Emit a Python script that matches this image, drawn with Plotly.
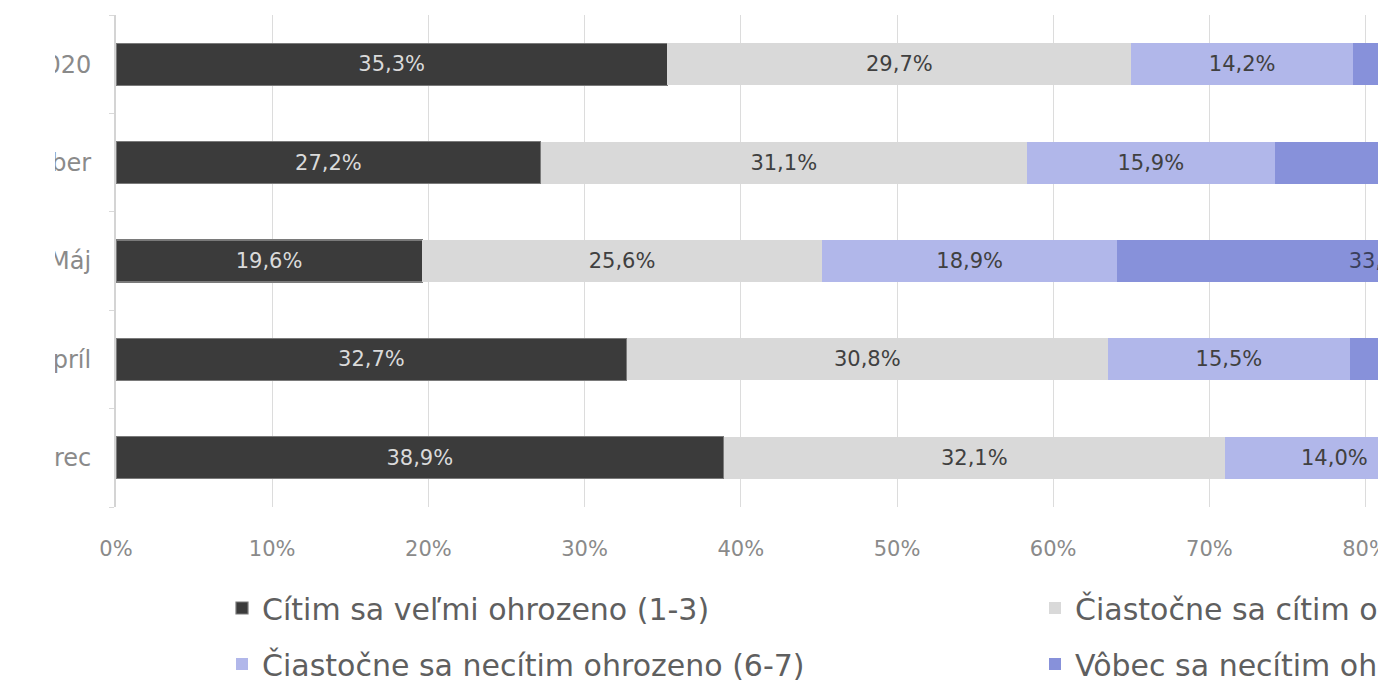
import plotly.graph_objects as go

categories = ["Marec", "Apríl", "Máj", "Október", "November 2020"]
series_names = [
    "Cítim sa veľmi ohrozeno (1-3)",
    "Čiastočne sa cítim ohrozeno (4-5)",
    "Čiastočne sa necítim ohrozeno (6-7)",
    "Vôbec sa necítim ohrozeno (8-10)",
]
s1 = [38.9, 32.7, 19.6, 27.2, 35.3]
s2 = [32.1, 30.8, 25.6, 31.1, 29.7]
s3 = [14.0, 15.5, 18.9, 15.9, 14.2]
s4 = [12.8, 17.4, 33.9, 21.9, 17.6]

colors = ["#3b3b3b", "#d9d9d9", "#b1b7ea", "#8791da"]
text_colors = ["#dadada", "#404040", "#404040", "#3a3f5c"]
legends = ["legend", "legend2", "legend", "legend2"]

FONT = "DejaVu Sans, Verdana, sans-serif"

W, H = 1378, 692
ML, MT, MB = 116, 15, 185
PW = W - ML
PH = H - MT - MB

def px_x(p):
    return (p - ML) / PW

def px_y(p):
    return (H - MB - p) / PH

fig = go.Figure()
for i, vals in enumerate([s1, s2, s3, s4]):
    fig.add_trace(go.Bar(
        y=categories,
        x=[v / 100 for v in vals],
        orientation="h",
        name=series_names[i],
        marker=dict(color=colors[i],
                    line=dict(color="#7a7a7a" if i == 0 else colors[i], width=1.2 if i == 0 else 0)),
        text=[f"{v:.1f}%".replace(".", ",") for v in vals],
        textposition="inside",
        insidetextanchor="middle",
        textangle=0,
        constraintext="none",
        textfont=dict(family=FONT, size=21, color=text_colors[i]),
        legend=legends[i],
        legendgroup=str(i),
        hoverinfo="skip",
    ))

legend_font = dict(family=FONT, size=30, color="#5f5f5f")
fig.update_layout(
    width=W, height=H,
    barmode="stack",
    bargap=0.575,
    plot_bgcolor="white",
    paper_bgcolor="white",
    margin=dict(l=ML, r=0, t=MT, b=MB, autoexpand=False),
    xaxis=dict(
        range=[0, PW / 1562],
        dtick=0.1,
        tickformat=".0%",
        showgrid=True,
        gridcolor="#dcdcdc",
        gridwidth=1,
        zeroline=False,
        ticks="",
        ticklabelstandoff=27,
        ticklabeloverflow="allow",
        tickfont=dict(family=FONT, size=21, color="#8a8a8a"),
        fixedrange=True,
    ),
    yaxis=dict(
        categoryorder="array",
        categoryarray=categories,
        showline=True,
        linecolor="#d4d4d4",
        linewidth=2,
        ticks="outside",
        tickson="boundaries",
        ticklen=5,
        tickcolor="#d9d9d9",
        ticklabelstandoff=18,
        tickfont=dict(family=FONT, size=24, color="#8a8a8a"),
        showgrid=False,
        fixedrange=True,
    ),
    legend=dict(
        x=px_x(222), y=px_y(582), xanchor="left", yanchor="top",
        orientation="v", font=legend_font, tracegroupgap=14,
        bgcolor="rgba(0,0,0,0)", itemclick=False, itemdoubleclick=False,
    ),
    legend2=dict(
        x=px_x(1035), y=px_y(582), xanchor="left", yanchor="top",
        orientation="v", font=legend_font, tracegroupgap=14,
        bgcolor="rgba(0,0,0,0)", itemclick=False, itemdoubleclick=False,
    ),
    showlegend=True,
    shapes=[dict(
        type="rect", xref="paper", yref="paper",
        x0=px_x(-10), x1=px_x(55), y0=px_y(H + 10), y1=px_y(-10),
        fillcolor="white", line=dict(width=0), layer="above",
    )],
)

fig.write_html(
    "out.html",
    config={"displayModeBar": False},
    post_script="document.body.style.margin='0px';",
)
